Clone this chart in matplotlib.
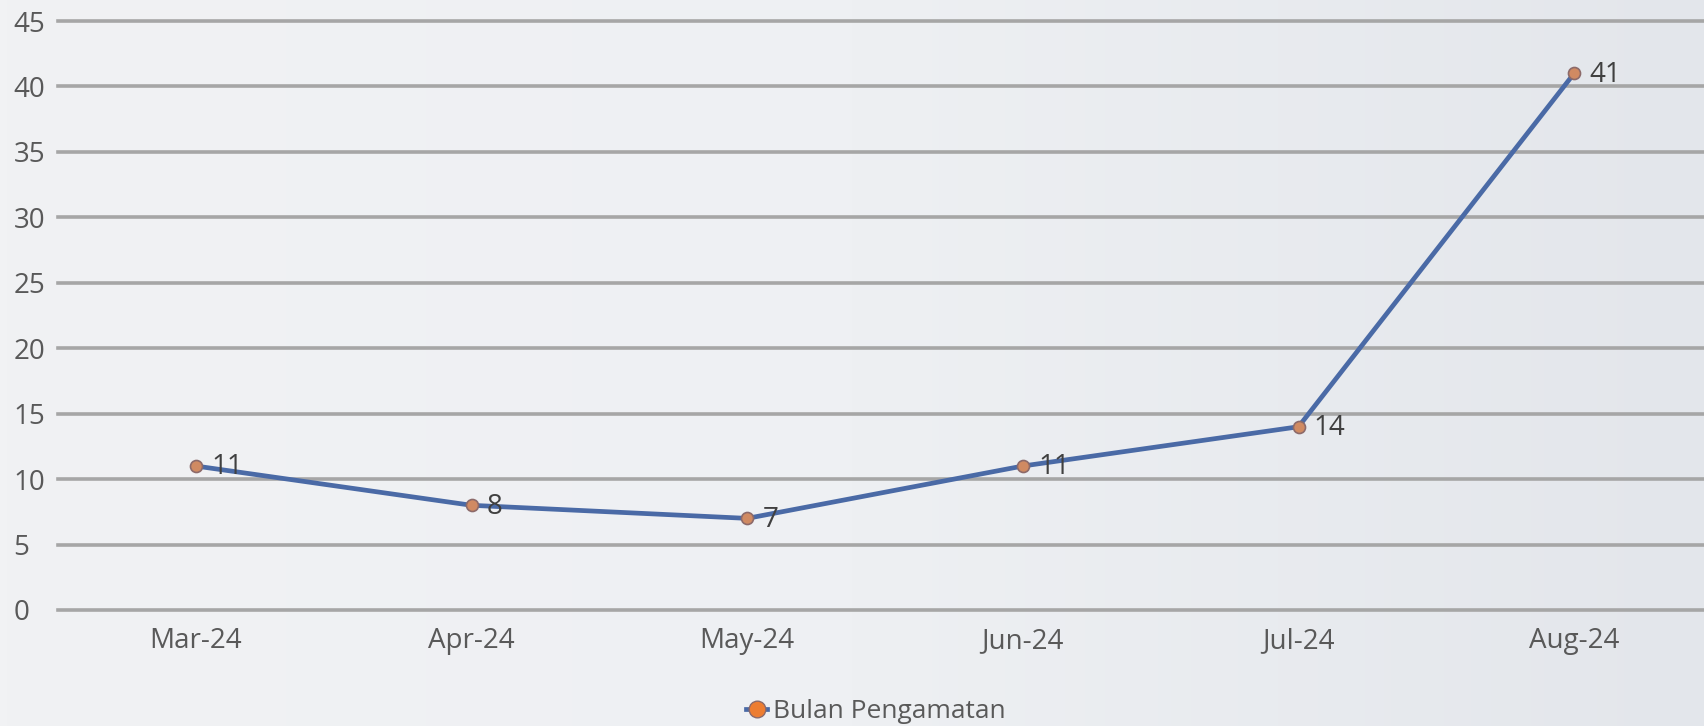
import numpy as np
import matplotlib.pyplot as plt
from matplotlib.lines import Line2D
from matplotlib.colors import LinearSegmentedColormap

# data
months = ['Mar-24', 'Apr-24', 'May-24', 'Jun-24', 'Jul-24', 'Aug-24']
values = [11, 8, 7, 11, 14, 41]
yticks = [0, 5, 10, 15, 20, 25, 30, 35, 40, 45]

plt.rcParams['font.family'] = ['Open Sans', 'DejaVu Sans']

W, H = 1704, 726
fig = plt.figure(figsize=(W/100, H/100), dpi=100)

# soft background gradient
bg = fig.add_axes([0, 0, 1, 1], zorder=-10)
grad = np.linspace(0, 1, 256).reshape(1, -1)
cmap = LinearSegmentedColormap.from_list('bg', ['#f1f2f4', '#eef0f3', '#e3e6eb'])
bg.imshow(grad, aspect='auto', cmap=cmap, extent=[0, 1, 0, 1])
bg.axis('off')

ax = fig.add_axes([58/W, 1 - 610/H, (1712-58)/W, (610-21)/H])
ax.patch.set_alpha(0)

x = np.arange(len(months))
ax.plot(x, values, color='#4a6aa6', lw=3.4, zorder=3, solid_capstyle='round')
ax.scatter(x, values, s=75, color='#d08a62', edgecolor='#8c6a6a', linewidth=1.2, zorder=4)

for xi, v in zip(x, values):
    ax.annotate(str(v), (xi, v), textcoords='offset points', xytext=(11, -1),
                ha='left', va='center', fontsize=20, color='#404040')

ax.set_xlim(-0.5, len(months) - 0.5)
ax.set_ylim(0, 45)
ax.set_yticks(yticks)
ax.set_yticklabels([str(t) for t in yticks], ha='left')
ax.set_xticks(x)
ax.set_xticklabels(months)
ax.grid(axis='y', color='#a6a6a6', lw=2.6)
for gl in ax.get_ygridlines():
    gl.set_clip_on(False)
ax.set_axisbelow(True)
for s in ax.spines.values():
    s.set_visible(False)
ax.tick_params(length=0, labelsize=20, labelcolor='#595959')
ax.tick_params(axis='y', pad=32)
ax.tick_params(axis='x', pad=12)

handle = Line2D([0], [0], color='#4a6aa6', lw=3.4, marker='o', markersize=12,
                markerfacecolor='#ed7d31', markeredgecolor='#8c6a6a')
fig.legend([handle], ['Bulan Pengamatan'], loc='center', bbox_to_anchor=(0.514, 1 - 712/H),
           frameon=False, fontsize=19, labelcolor='#595959', handlelength=0.8,
           handletextpad=0.2)

fig.savefig('out.png', dpi=100)
